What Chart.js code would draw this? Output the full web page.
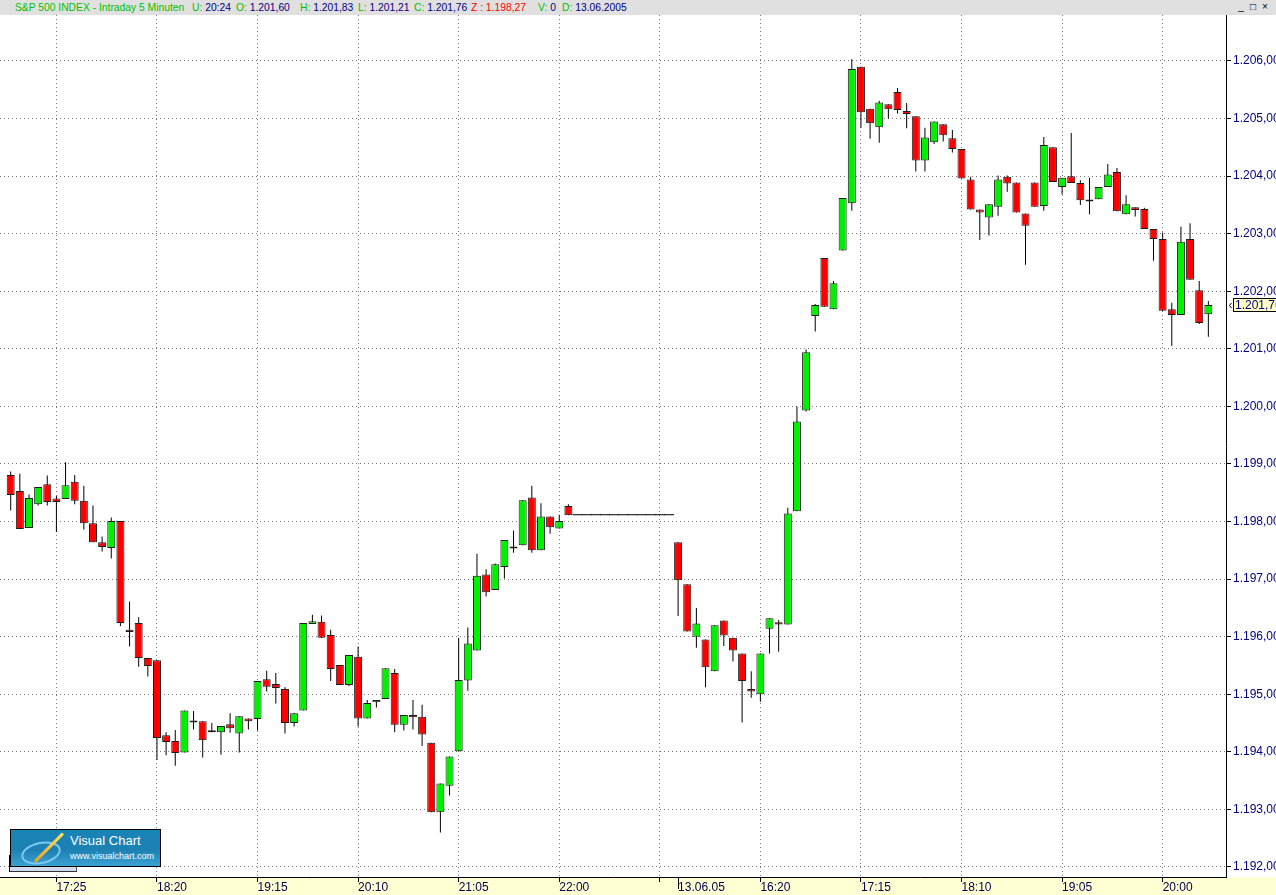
<!DOCTYPE html>
<html>
<head>
<meta charset="utf-8">
<script src="https://cdn.jsdelivr.net/npm/chart.js@4.4.0/dist/chart.umd.min.js"></script>
<style>
html,body{margin:0;padding:0;width:1276px;height:895px;overflow:hidden;background:#fff;font-family:"Liberation Sans",Arial,sans-serif;}
#hdr{position:absolute;left:0;top:0;width:1276px;height:15px;background:#e0e0e0;font-size:10.3px;line-height:15px;}
#hdr span.it{position:absolute;top:0;white-space:nowrap;}
.g{color:#00c000}.n{color:#000080}.r{color:#ff0000}
#btns{position:absolute;top:2px;left:1236px;height:11px;}
#btns div{position:absolute;top:0;width:10px;height:10px;font-size:10px;line-height:10px;text-align:center;color:#000;}
#wrap{position:absolute;left:0;top:15px;width:1276px;height:880px;}
#logo2{position:absolute;left:9px;top:855px;width:66px;height:16px;background:#d2daee;border-left:1px solid #000;border-bottom:1px solid #333;border-right:1px solid #555;}
#logo{position:absolute;left:10px;top:829px;width:149px;height:36px;border:1px solid #000;background:linear-gradient(to bottom,#1a84b6 0%,#1c80b2 55%,#3aa2d2 100%);overflow:hidden;}
#logo .t1{position:absolute;left:59px;top:3px;color:#fff;font-size:13px;white-space:nowrap;}
#logo .t2{position:absolute;left:59px;top:21px;color:#fff;font-size:9px;white-space:nowrap;}
#logo .ell{position:absolute;left:10px;top:12px;width:36px;height:18px;border-radius:50%;border:2px solid #7cc8f0;transform:rotate(-12deg);}
#logo .sw{position:absolute;left:18px;top:16px;width:40px;height:3px;background:linear-gradient(to right,#f0a020,#ffe060);transform:rotate(-45deg);border-radius:2px;}
</style>
</head>
<body>
<div id="hdr">
  <span class="it g" style="left:15px">S&amp;P 500 INDEX - Intraday 5 Minuten</span>
  <span class="it" style="left:192px"><span class="g">U:</span> <span class="n">20:24</span></span>
  <span class="it" style="left:236px"><span class="g">O:</span> <span class="n" id="hO"></span></span>
  <span class="it" style="left:300px"><span class="g">H:</span> <span class="n" id="hH"></span></span>
  <span class="it" style="left:358px"><span class="g">L:</span> <span class="n" id="hL"></span></span>
  <span class="it" style="left:414px"><span class="g">C:</span> <span class="n" id="hC"></span></span>
  <span class="it r" style="left:471px">Z : 1.198,27</span>
  <span class="it" style="left:538px"><span class="g">V:</span> <span class="n">0</span></span>
  <span class="it" style="left:562px"><span class="g">D:</span> <span class="n">13.06.2005</span></span>
  <div id="btns"><div style="left:0">_</div><div style="left:12px">□</div><div style="left:24px">×</div></div>
</div>
<div id="wrap"><canvas id="c"></canvas></div>
<div id="logo2"></div>
<div id="logo"><div class="ell"></div><div class="sw"></div><div class="t1">Visual Chart</div><div class="t2">www.visualchart.com</div></div>
<script>
// 5-minute bars, index 0 = 17:00 (12.06 session), index 73 = 15:35 (13.06.05)
const open = [
1198.81,1198.53,1197.89,1198.30,1198.65,1198.40,1198.39,1198.69,1198.36,1197.97,
1197.64,1197.54,1198.01,1196.12,1196.24,1195.63,1195.59,1194.29,1194.19,1193.99,
1194.51,1194.53,1194.34,1194.34,1194.48,1194.32,1194.58,1194.57,1195.26,1195.18,
1195.09,1194.50,1194.72,1196.22,1196.26,1196.03,1195.51,1195.16,1195.65,1194.58,
1194.86,1194.92,1195.37,1194.47,1194.64,1194.61,1194.16,1192.95,1193.41,1194.01,
1195.24,1195.76,1197.08,1196.81,1197.21,1197.53,1197.59,1198.42,1197.50,1198.09,
1197.88,1198.27,1198.11,1198.11,1198.11,1198.11,1198.11,1198.11,1198.11,1198.11,
1198.11,1198.11,1198.11,1197.64,1196.91,1196.00,1195.95,1195.40,1196.28,1195.98,
1195.71,1195.09,1195.00,1196.14,1196.25,1196.21,1198.18,1199.93,1201.57,1202.58,
1201.69,1202.71,1203.53,1205.90,1205.17,1204.85,1205.25,1205.46,1205.13,1205.04,
1204.27,1204.59,1204.90,1204.66,1204.47,1203.94,1203.42,1203.28,1203.47,1203.99,
1203.89,1203.35,1203.89,1203.48,1204.50,1203.81,1204.00,1203.88,1203.56,1203.60,
1203.81,1204.07,1203.34,1203.46,1203.43,1203.08,1202.91,1201.69,1201.59,1202.91,
1202.02,1201.60];
const high = [
1198.87,1198.83,1198.47,1198.60,1198.80,1198.45,1199.03,1198.81,1198.62,1198.28,
1197.74,1198.07,1198.01,1196.61,1196.34,1195.63,1195.59,1194.34,1194.38,1194.72,
1194.71,1194.53,1194.50,1194.45,1194.67,1194.62,1194.58,1195.23,1195.41,1195.37,
1195.12,1194.67,1196.24,1196.38,1196.37,1196.12,1195.51,1195.68,1195.83,1194.90,
1194.90,1195.45,1195.44,1194.64,1194.90,1194.82,1194.16,1193.45,1193.92,1195.98,
1196.16,1197.44,1197.17,1197.27,1197.68,1197.84,1198.37,1198.62,1198.32,1198.09,
1198.12,1198.30,1198.11,1198.11,1198.11,1198.11,1198.11,1198.11,1198.11,1198.11,
1198.11,1198.11,1198.11,1197.64,1196.91,1196.50,1195.95,1196.20,1196.28,1195.98,
1195.71,1195.40,1195.71,1196.32,1196.29,1198.24,1200.00,1200.99,1201.78,1202.58,
1202.18,1203.62,1206.03,1205.90,1205.17,1205.31,1205.25,1205.53,1205.27,1205.04,
1204.84,1204.95,1204.90,1204.80,1204.47,1203.99,1203.42,1203.51,1204.01,1204.01,
1203.89,1203.35,1203.89,1204.68,1204.50,1203.97,1204.75,1203.93,1203.97,1203.81,
1204.21,1204.14,1203.67,1203.46,1203.45,1203.08,1203.02,1201.80,1203.12,1203.18,
1202.18,1201.83];
const low = [
1198.19,1197.87,1197.89,1198.28,1198.28,1197.82,1198.39,1198.30,1197.86,1197.64,
1197.48,1197.36,1196.18,1195.83,1195.48,1195.31,1193.86,1193.94,1193.76,1193.99,
1194.39,1193.90,1194.34,1193.95,1194.33,1193.99,1194.39,1194.37,1195.05,1194.84,
1194.32,1194.44,1194.72,1196.22,1195.98,1195.23,1195.16,1195.14,1194.44,1194.58,
1194.77,1194.92,1194.34,1194.37,1194.39,1194.10,1192.95,1192.60,1193.24,1194.01,
1195.06,1195.76,1196.70,1196.81,1197.01,1197.46,1197.59,1197.46,1197.50,1197.79,
1197.88,1198.11,1198.11,1198.11,1198.11,1198.11,1198.11,1198.11,1198.11,1198.11,
1198.11,1198.11,1198.11,1196.36,1196.09,1195.81,1195.12,1195.40,1195.84,1195.57,
1194.51,1194.94,1194.87,1195.71,1195.74,1196.21,1198.18,1199.91,1201.30,1201.73,
1201.69,1202.71,1203.40,1204.84,1204.65,1204.58,1205.00,1205.09,1204.83,1204.08,
1204.08,1204.56,1204.60,1204.41,1203.96,1203.42,1202.89,1202.97,1203.31,1203.73,
1203.37,1202.46,1203.47,1203.40,1203.90,1203.68,1203.88,1203.50,1203.34,1203.60,
1203.81,1203.39,1203.34,1203.30,1203.08,1202.53,1201.66,1201.05,1201.59,1202.20,
1201.43,1201.21];
const close = [
1198.46,1197.87,1198.41,1198.60,1198.34,1198.34,1198.63,1198.36,1197.97,1197.64,
1197.56,1198.01,1196.24,1196.08,1195.63,1195.49,1194.24,1194.17,1193.98,1194.72,
1194.51,1194.20,1194.34,1194.45,1194.41,1194.62,1194.53,1195.23,1195.13,1195.11,
1194.50,1194.67,1196.24,1196.27,1195.98,1195.44,1195.16,1195.68,1194.58,1194.85,
1194.90,1195.45,1194.47,1194.64,1194.60,1194.30,1192.95,1193.45,1193.92,1195.25,
1195.88,1197.06,1196.77,1197.26,1197.68,1197.53,1198.37,1197.50,1198.09,1197.90,
1198.01,1198.11,1198.11,1198.11,1198.11,1198.11,1198.11,1198.11,1198.11,1198.11,
1198.11,1198.11,1198.11,1196.98,1196.09,1196.23,1195.47,1196.20,1196.02,1195.76,
1195.23,1195.05,1195.71,1196.32,1196.21,1198.14,1199.74,1200.94,1201.76,1201.73,
1202.14,1203.62,1205.86,1205.11,1204.92,1205.28,1205.16,1205.15,1205.08,1204.27,
1204.67,1204.95,1204.71,1204.47,1203.96,1203.42,1203.37,1203.51,1203.94,1203.87,
1203.37,1203.14,1203.47,1204.54,1203.90,1203.97,1203.88,1203.58,1203.56,1203.81,
1204.03,1203.39,1203.51,1203.41,1203.08,1202.91,1201.66,1201.59,1202.86,1202.20,
1201.45,1201.76];

const xTickIdx    = [5, 16, 27, 38, 49, 60, 71, 73, 82, 93, 104, 115, 126];
const xTickLabels = ['17:25','18:20','19:15','20:10','21:05','22:00','','13.06.05','16:20','17:15','18:10','19:05','20:00'];
const dayStartIdx = 73;
const yTicks      = [1192,1193,1194,1195,1196,1197,1198,1199,1200,1201,1202,1203,1204,1205,1206];
const yTickLabels = ['1.192,00','1.193,00','1.194,00','1.195,00','1.196,00','1.197,00','1.198,00','1.199,00','1.200,00','1.201,00','1.202,00','1.203,00','1.204,00','1.205,00','1.206,00'];

function fmt(v){
  const s = v.toFixed(2).split('.');
  const ip = s[0].replace(/\B(?=(\d{3})+(?!\d))/g,'.');
  return ip + ',' + s[1];
}
const last = close.length - 1;
document.getElementById('hO').textContent = fmt(open[last]);
document.getElementById('hH').textContent = fmt(high[last]);
document.getElementById('hL').textContent = fmt(low[last]);
document.getElementById('hC').textContent = fmt(close[last]);

const UP = '#00f000', DOWN = '#ff0000', EDGE = '#1c1c1c';
const idx = open.map((o,i)=>i);
const isFlat = (i)=> open[i]===high[i] && high[i]===low[i] && low[i]===close[i];
const normIdx = idx.filter(i=>!isFlat(i));
const flatIdx = idx.filter(i=>isFlat(i));
const bodies = normIdx.map(i=>({x:i, y:[open[i], close[i]]}));
const bodyColors = normIdx.map(i=> close[i] > open[i] ? UP : (close[i] < open[i] ? DOWN : '#000'));
const flats  = flatIdx.map(i=>({x:i, y:[open[i], close[i]]}));
const wicks  = idx.map(i=>({x:i, y:[low[i], high[i]]}));

const FONT = '"Liberation Sans", Arial, sans-serif';

const stripPlugin = {
  id:'strip',
  beforeDraw(chart){
    const {ctx, chartArea, width, height} = chart;
    ctx.save();
    ctx.fillStyle = '#ffffd4';
    ctx.fillRect(0, chartArea.bottom, width, height - chartArea.bottom);
    ctx.restore();
  }
};
const tagPlugin = {
  id:'tag',
  afterDraw(chart){
    const {ctx, chartArea} = chart;
    // day separator: longer tick mark
    const xd = Math.round(chart.scales.x.getPixelForValue(dayStartIdx)) + 0.5;
    ctx.save();
    ctx.strokeStyle = '#000'; ctx.lineWidth = 1;
    ctx.beginPath(); ctx.moveTo(xd, chartArea.bottom); ctx.lineTo(xd, chartArea.bottom + 12); ctx.stroke();
    // last price tag
    const y = Math.round(chart.scales.y.getPixelForValue(close[last]));
    const x0 = chartArea.right;
    ctx.fillStyle = '#ffffc4';
    ctx.fillRect(x0+7, y-7, 60, 14);
    ctx.strokeRect(x0+7.5, y-6.5, 60, 13);
    ctx.fillStyle = '#000080';
    ctx.font = '12px ' + FONT;
    ctx.textBaseline = 'middle';
    ctx.fillText(fmt(close[last]), x0+9, y+1);
    ctx.beginPath();
    ctx.moveTo(x0+5.5, y-2); ctx.lineTo(x0+3.5, y+0.5); ctx.lineTo(x0+5.5, y+3);
    ctx.stroke();
    ctx.restore();
  }
};

new Chart(document.getElementById('c'), {
  type:'bar',
  data:{
    datasets:[
      { data: bodies, backgroundColor: bodyColors, borderColor: EDGE, borderWidth: 1,
        borderSkipped: false, barThickness: 8, grouped: false, minBarLength: 2, inflateAmount: 0 },
      { data: flats, backgroundColor: '#000', borderWidth: 0, barThickness: 10,
        grouped: false, minBarLength: 1, inflateAmount: 0 },
      { data: wicks, backgroundColor: '#000', borderWidth: 0, barThickness: 1,
        grouped: false, inflateAmount: 0 }
    ]
  },
  options:{
    responsive:true, maintainAspectRatio:false, animation:false, devicePixelRatio:1,
    layout:{padding:0},
    plugins:{legend:{display:false}, tooltip:{enabled:false}, title:{display:false}},
    scales:{
      x:{
        type:'linear', min:-1.17, max:132.93, offset:false,
        grid:{offset:false, lineWidth:1, tickLength:5, tickColor:'#000',
              color:(c)=> (c.tick && c.tick.value === dayStartIdx) ? 'rgba(0,0,0,0)' : '#7a7a7a'},
        border:{display:true, color:'#000', width:1, dash:[1,3]},
        ticks:{autoSkip:false, maxRotation:0, minRotation:0, align:'start', padding:-2,
               color:'#00004a', font:{family:FONT, size:12},
               callback:(v,i)=> xTickLabels[i]},
        afterBuildTicks:(s)=>{ s.ticks = xTickIdx.map(v=>({value:v})); },
        afterFit:(s)=>{ s.height = 18; s.paddingLeft = 0; s.paddingRight = 0; }
      },
      y:{
        type:'linear', position:'right', min:1191.826, max:1206.799, beginAtZero:false,
        grid:{lineWidth:1, tickLength:5, tickColor:'#000', color:'#7a7a7a'},
        border:{display:true, color:'#000', width:1, dash:[1,3]},
        ticks:{padding:2, color:'#000080', font:{family:FONT, size:12},
               callback:(v,i)=> yTickLabels[i]},
        afterBuildTicks:(s)=>{ s.ticks = yTicks.map(v=>({value:v})); },
        afterFit:(s)=>{ s.width = 50; s.paddingTop = 0; s.paddingBottom = 0; }
      }
    }
  },
  plugins:[stripPlugin, tagPlugin]
});
</script>
</body>
</html>
